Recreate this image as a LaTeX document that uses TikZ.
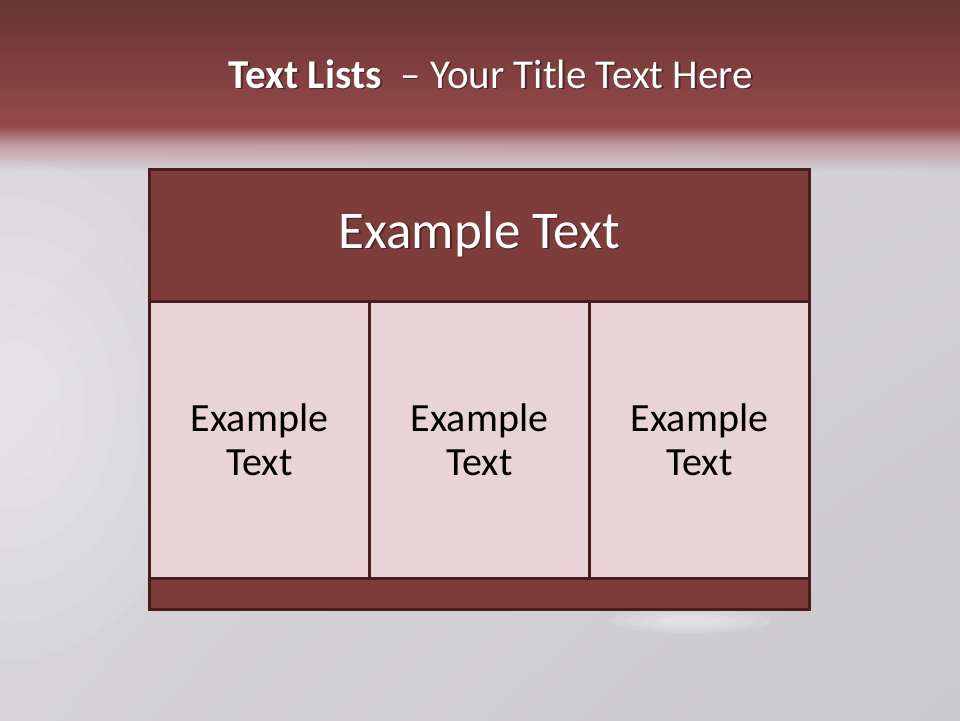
\documentclass[tikz,border=0pt]{standalone}
\usepackage{fontspec}
\setmainfont{Carlito}
\usetikzlibrary{shadings}
\definecolor{bandtop}{HTML}{683333}
\definecolor{bandbot}{HTML}{954A4A}
\definecolor{bgA}{HTML}{DAD8DD}
\definecolor{bgB}{HTML}{C9C8CC}
\definecolor{bgM}{HTML}{D2D0D4}
\definecolor{fadeA}{HTML}{BE9AA1}
\definecolor{hdrfill}{HTML}{7E3D3B}
\definecolor{cellfill}{HTML}{E8D4D4}
\definecolor{edge}{HTML}{471D1D}
\tikzset{
  boxpart/.style={draw=edge, line width=3pt, inner sep=0pt, anchor=north west},
  hdrbox/.style={boxpart, fill=hdrfill, minimum width=660pt, minimum height=132pt},
  cellbox/.style={boxpart, fill=cellfill, minimum width=220pt, minimum height=277pt, align=center, font=\fontsize{40}{44}\selectfont, text=black},
  footbox/.style={boxpart, fill=hdrfill, minimum width=660pt, minimum height=31pt},
  whitetext/.style={text=white, inner sep=0pt},
  shadowtext/.style={text=black, opacity=0.4, inner sep=0pt},
  glow/.style={fill=white, opacity=0.07}
}
\begin{document}
\begin{tikzpicture}[x=1pt,y=-1pt]
\useasboundingbox (0,0) rectangle (960,720);
% background
\shade[upper left=bgA, upper right=bgM, lower left=bgM!60!bgA, lower right=bgB] (0,172) rectangle (960,720);
\shade[upper left=fadeA, upper right=fadeA, lower left=bgA, lower right=bgM] (0,144) rectangle (960,172.5);
\shade[top color=bandbot, bottom color=fadeA] (0,126) rectangle (960,144.5);
\foreach \s in {1.0,0.85,0.7,0.55,0.4,0.28} {
  \fill[glow] (10,410) ellipse ({190*\s} and {250*\s});
}
\foreach \s in {1.0,0.8,0.6,0.4} {
  \fill[glow, opacity=0.12] (690,621) ellipse ({80*\s} and {12*\s});
}
% top band
\shade[top color=bandtop, bottom color=bandbot] (0,0) rectangle (960,126.5);
% title
\node[shadowtext, anchor=base] at (492.5,89.5) {\fontsize{41}{48}\selectfont\textbf{Text Lists}\ \ – Your Title Text Here};
\node[whitetext, anchor=base] (title) at (491,88) {\fontsize{41}{48}\selectfont\textbf{Text Lists}\ \ – Your Title Text Here};
% box
\node[hdrbox] (hdr) at (148,168) {};
\node[cellbox] (c1) at (148,300) {Example\\Text};
\node[cellbox] (c2) at (368,300) {Example\\Text};
\node[cellbox] (c3) at (588,300) {Example\\Text};
\node[footbox] (foot) at (148,577) {};
\node[shadowtext, font=\fontsize{53}{60}\selectfont, anchor=base] at ([shift={(1.5pt,-1.5pt)}]hdr.center |- 0,248) {Example Text};
\node[whitetext, font=\fontsize{53}{60}\selectfont, anchor=base] (htxt) at (hdr.center |- 0,248) {Example Text};
\end{tikzpicture}
\end{document}
